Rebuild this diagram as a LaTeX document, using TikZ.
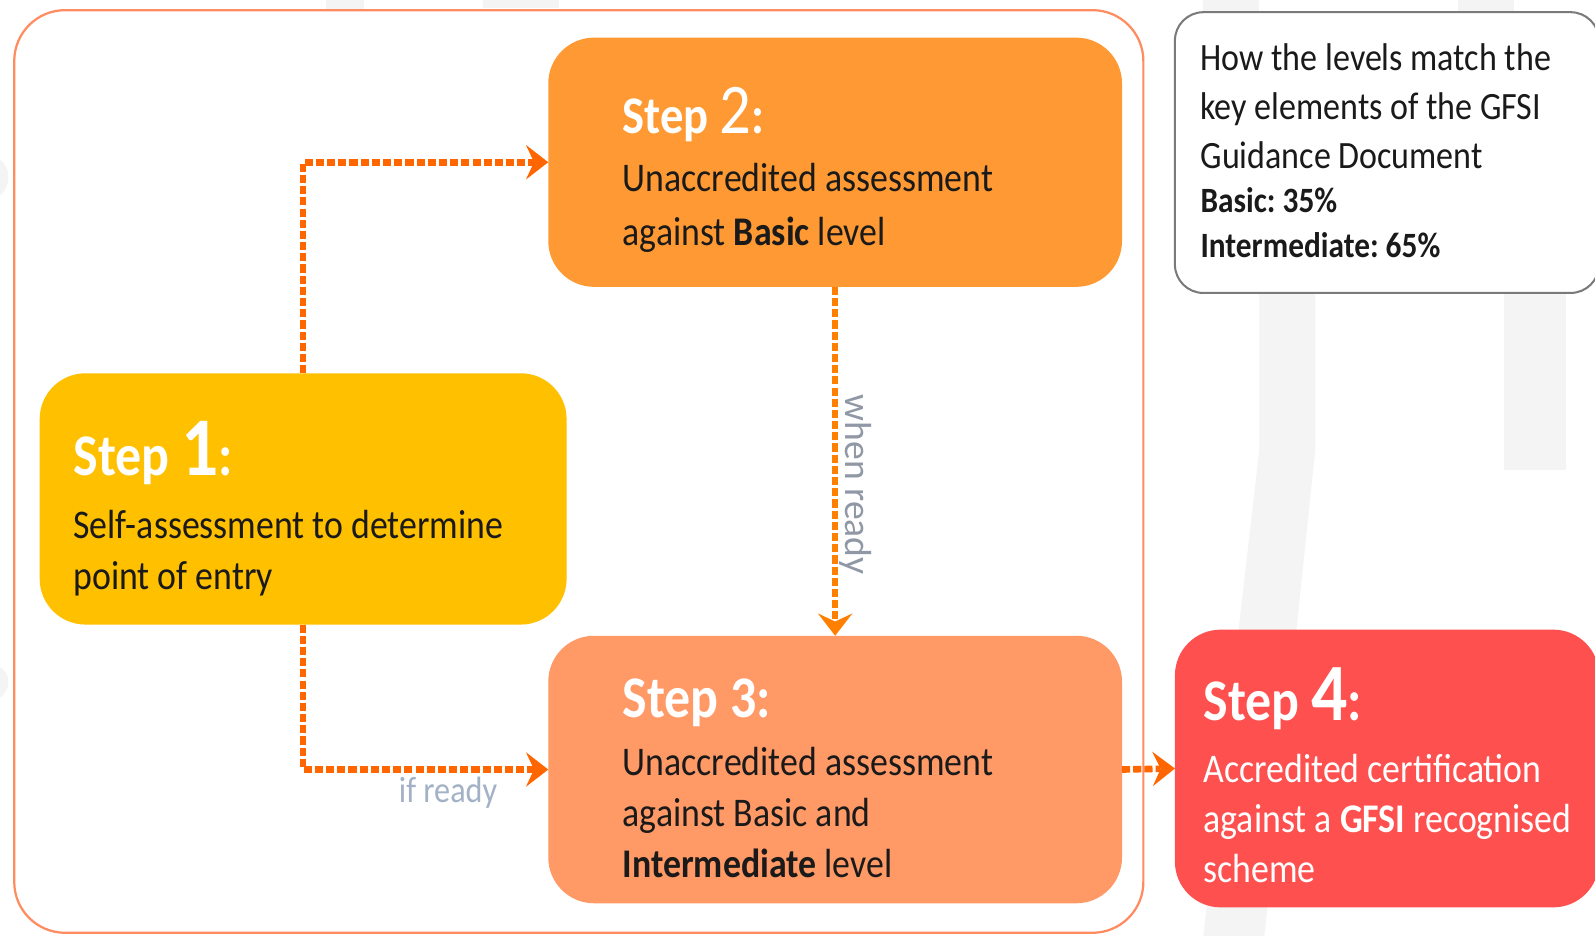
\documentclass[tikz,border=0pt]{standalone}
\usepackage{fontspec}
\setmainfont{Carlito}[FakeStretch=0.88]
\newfontfamily\uprightfont{Carlito}
\usetikzlibrary{arrows.meta,calc}

\definecolor{stepone}{HTML}{FFC000}
\definecolor{steptwo}{HTML}{FF9933}
\definecolor{stepthree}{HTML}{FF9966}
\definecolor{stepfour}{HTML}{FF5050}
\definecolor{flowline}{HTML}{FF6600}
\definecolor{flowlinelight}{HTML}{FF8000}
\definecolor{framecol}{HTML}{FF8C60}
\definecolor{infoborder}{HTML}{7A7A7A}
\definecolor{bodytext}{HTML}{1A1A1A}
\definecolor{notegrey}{HTML}{A3B1C6}
\definecolor{notegreydark}{HTML}{9098A6}
\definecolor{watermark}{HTML}{F4F4F4}

\tikzset{
  stepbox/.style={rounded corners=45pt, inner sep=0pt, outer sep=0pt},
  headtext/.style={anchor=base west, inner sep=0pt, text=white},
  bodytxt/.style={anchor=base west, inner sep=0pt, align=flush left,
                  text width=500pt, text=bodytext},
  flow/.style={draw=#1, line width=6.5pt, dash pattern=on 8pt off 3pt,
               -{Stealth[length=22pt,width=34pt,inset=8pt,line width=0pt]}},
  flow/.default=flowline,
  notelabel/.style={inner sep=0pt}
}

\begin{document}
\frenchspacing
\begin{tikzpicture}[x=1pt,y=1pt]
  % page
  \fill[white] (0,0) rectangle (1568,920);
  \useasboundingbox (0,0) rectangle (1568,920);

  % faint background strokes
  \fill[watermark] (1238,632) -- (1293,632) -- (1293,478) -- (1243,0)
                   -- (1183,0) -- (1238,478) -- cycle;
  \fill[watermark] (1479,632) rectangle (1539,458);
  \fill[watermark] (1183,920) rectangle (1238,905);
  \fill[watermark] (1433,920) rectangle (1488,905);
  \fill[watermark] (320,920) rectangle (358,911);
  \fill[watermark] (475,920) rectangle (550,912);
  \fill[watermark] (0,728) .. controls (10,735) and (12,755) .. (0,763) -- cycle;
  \fill[watermark] (0,234) .. controls (10,241) and (12,257) .. (0,264) -- cycle;

  % outer frame
  \draw[framecol, line width=2.2pt, rounded corners=50pt]
       (14,910) rectangle (1124,3);

  % note box
  \node[draw=infoborder, line width=2pt, fill=white, rounded corners=28pt,
        minimum width=417pt, minimum height=276pt] (info) at (1363.5,770) {};

  % step boxes
  \node[stepbox, fill=stepone,   minimum width=518pt, minimum height=247pt] (s1) at (298,429.5) {};
  \node[stepbox, fill=steptwo,   minimum width=564pt, minimum height=245pt] (s2) at (821,760.5) {};
  \node[stepbox, fill=stepthree, minimum width=564pt, minimum height=263pt] (s3) at (821,163.5) {};
  \node[stepbox, fill=stepfour,  minimum width=417pt, minimum height=273pt] (s4) at (1363.5,164.5) {};

  % connectors
  \draw[flow] (s1.north) |- (s2.west);
  \draw[flow] (s1.south) |- (s3.west);
  \draw[flow=flowlinelight] (s2.south) -- (s3.north);
  \draw[flow] (s3.east) -- (s4.west);

  % connector labels
  \node[notelabel, anchor=base east, text=notegrey,
        font=\fontsize{36}{36}\selectfont] (ifready)
        at ($(s3.west)+(-50,-32.5)$) {if ready};
  \node[notelabel, anchor=base west, rotate=-90, text=notegreydark,
        font=\uprightfont\fontsize{37}{37}\selectfont] (whenready)
        at ($(s2.south)+(10,-106)$) {when ready};

  % step 1
  \node[headtext, font=\fontsize{58}{58}\selectfont\bfseries] (s1h)
        at ($(s1.west)+(33,23.5)$)
        {Step {\fontsize{82}{82}\selectfont 1}:};
  \node[bodytxt, font=\fontsize{40}{51}\selectfont] (s1b)
        at ($(s1.west)+(33,-38.5)$)
        {Self-assessment to determine\\point of entry};

  % step 2
  \node[headtext, font=\fontsize{52}{52}\selectfont\bfseries] (s2h)
        at ($(s2.west)+(73,28.5)$)
        {Step {\mdseries\fontsize{70}{70}\selectfont 2}:};
  \node[bodytxt, font=\fontsize{40}{53}\selectfont] (s2b)
        at ($(s2.west)+(73,-28.5)$)
        {Unaccredited assessment\\against \textbf{Basic} level};

  % step 3
  \node[headtext, font=\fontsize{58}{58}\selectfont\bfseries] (s3h)
        at ($(s3.west)+(73,51.5)$) {Step 3:};
  \node[bodytxt, font=\fontsize{40}{50.5}\selectfont] (s3b)
        at ($(s3.west)+(73,-5.5)$)
        {Unaccredited assessment\\against Basic and\\\textbf{Intermediate} level};

  % step 4
  \node[headtext, font=\fontsize{58}{58}\selectfont\bfseries] (s4h)
        at ($(s4.west)+(28,47.5)$)
        {Step {\fontsize{80}{80}\selectfont 4}:};
  \node[bodytxt, text=white, font=\fontsize{40}{49.5}\selectfont] (s4b)
        at ($(s4.west)+(28,-13.5)$)
        {Accredited certification\\against a \textbf{GFSI} recognised\\scheme};

  % note text
  \node[bodytxt, font=\fontsize{38}{48.5}\selectfont] (infot)
        at ($(info.north west)+(26,-58)$)
        {How the levels match the\\key elements of the GFSI\\Guidance Document};
  \node[bodytxt, font=\fontsize{35}{44}\selectfont\bfseries] (infop)
        at ($(info.north west)+(26,-198)$)
        {Basic: 35\%\\Intermediate: 65\%};
\end{tikzpicture}
\end{document}
